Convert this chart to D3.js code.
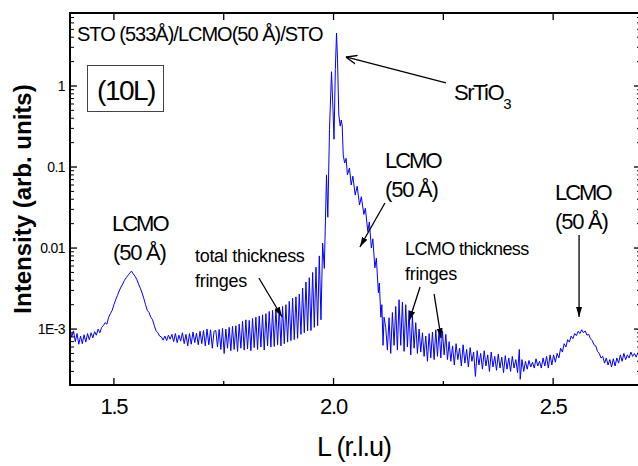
<!DOCTYPE html>
<html>
<head>
<meta charset="utf-8">
<script src="https://cdn.jsdelivr.net/npm/d3@7"></script>
<style>
  body { margin: 0; background: #fff; }
  text { font-family: "Liberation Sans", Arial, sans-serif; fill: #000; }
</style>
</head>
<body>
<svg id="chart" width="638" height="466"></svg>
<script>
// (10L) scan, L in r.l.u, intensity in arb. units
var scan = [
  [1.400,1.0e-3],[1.404,8.0e-4],[1.408,9.5e-4],[1.412,7.0e-4],[1.416,8.8e-4],[1.420,6.5e-4],
  [1.424,8.2e-4],[1.428,6.6e-4],[1.432,8.5e-4],[1.436,6.9e-4],[1.440,8.8e-4],[1.444,7.4e-4],
  [1.448,9.0e-4],[1.452,7.8e-4],[1.456,9.3e-4],[1.460,8.4e-4],[1.464,1.0e-3],[1.468,9.0e-4],
  [1.472,1.05e-3],[1.476,1.1e-3],[1.480,1.2e-3],[1.484,1.15e-3],[1.488,1.4e-3],[1.492,1.55e-3],
  [1.496,1.7e-3],[1.500,2.0e-3],[1.504,2.3e-3],[1.508,2.6e-3],[1.512,2.95e-3],[1.516,3.3e-3],
  [1.520,3.6e-3],[1.524,4.0e-3],[1.528,4.3e-3],[1.532,4.6e-3],[1.536,4.9e-3],[1.540,5.2e-3],
  [1.544,4.8e-3],[1.548,4.5e-3],[1.552,4.1e-3],[1.556,3.6e-3],[1.560,3.2e-3],[1.564,2.8e-3],
  [1.568,2.4e-3],[1.572,2.0e-3],[1.576,1.7e-3],[1.580,1.6e-3],[1.584,1.4e-3],[1.588,1.3e-3],
  [1.592,1.1e-3],[1.596,9.5e-4],[1.600,9.0e-4],[1.604,8.2e-4],
  [1.608,8.0e-4],[1.612,7.3e-4],[1.616,8.2e-4],[1.620,7.2e-4],[1.624,8.4e-4],[1.628,7.5e-4],
  [1.632,8.6e-4],[1.636,7.0e-4],[1.640,8.8e-4],[1.644,6.8e-4],[1.648,8.4e-4],[1.652,7.1e-4],
  [1.656,9.0e-4],[1.660,6.6e-4],[1.664,8.6e-4],[1.668,6.2e-4],[1.672,8.8e-4],[1.676,6.5e-4],
  [1.680,9.2e-4],[1.684,6.8e-4],[1.688,8.9e-4],[1.692,6.4e-4],[1.696,9.4e-4],[1.700,6.6e-4],
  [1.704,9.6e-4],[1.708,6.2e-4],[1.712,1.0e-3],[1.716,6.4e-4],[1.720,9.8e-4],[1.724,5.8e-4],
  [1.728,9.4e-4],
  [1.7320,9.6e-4],[1.7358,6.0e-4],[1.7396,9.9e-4],[1.7434,5.6e-4],[1.7472,1.02e-3],[1.7510,5.0e-4],
  [1.7548,1.0e-3],[1.7586,5.8e-4],[1.7624,1.05e-3],[1.7662,5.4e-4],[1.7700,1.08e-3],[1.7738,5.6e-4],
  [1.7776,1.1e-3],[1.7814,5.3e-4],[1.7852,1.15e-3],[1.7890,5.8e-4],[1.7928,1.25e-3],[1.7966,5.5e-4],
  [1.8004,1.3e-3],[1.8042,5.7e-4],[1.8080,1.28e-3],[1.8118,5.4e-4],[1.8156,1.35e-3],[1.8194,5.9e-4],
  [1.8232,1.4e-3],[1.8270,5.6e-4],[1.8308,1.45e-3],[1.8346,6.0e-4],[1.8384,1.5e-3],[1.8422,5.5e-4],
  [1.8460,1.55e-3],[1.8498,6.2e-4],[1.8536,1.65e-3],[1.8574,6.0e-4],[1.8612,1.7e-3],[1.8650,6.1e-4],
  [1.8688,1.8e-3],[1.8726,6.4e-4],[1.8764,1.85e-3],[1.8802,6.2e-4],[1.8840,1.9e-3],[1.8878,6.6e-4],
  [1.8916,2.0e-3],[1.8954,6.9e-4],[1.8992,2.2e-3],[1.9030,7.2e-4],[1.9068,2.4e-3],[1.9106,7.4e-4],
  [1.9144,2.5e-3],[1.9182,7.7e-4],[1.9220,2.7e-3],[1.9258,8.6e-4],[1.9296,3.2e-3],[1.9334,9.0e-4],
  [1.9372,3.8e-3],[1.9410,9.5e-4],[1.9448,4.3e-3],[1.9486,9.6e-4],[1.9524,5.0e-3],[1.9562,1.05e-3],
  [1.9600,5.8e-3],[1.9638,1.1e-3],[1.9676,8.0e-3],[1.9714,1.3e-3],[1.9752,1.15e-2],[1.9790,5.6e-3],
  [1.9840,8.0e-2],[1.9870,2.4e-2],[1.9908,2.9e-1],[1.9954,1.5],[1.9988,5.0e-1],[2.0011,2.2e-1],
  [2.0041,1.6],[2.0068,4.5],[2.0091,2.1],[2.0120,4.4e-1],[2.0152,3.2e-1],[2.0176,3.8e-1],
  [2.0196,3.3e-1],[2.0221,1.4e-1],[2.0253,1.12e-1],[2.0286,1.28e-1],[2.0316,8.0e-2],[2.0362,9.7e-2],
  [2.0402,6.0e-2],[2.0440,7.7e-2],[2.0493,4.5e-2],[2.0538,5.8e-2],[2.0592,3.4e-2],[2.0633,4.3e-2],
  [2.0690,2.6e-2],[2.0724,3.1e-2],[2.0781,1.6e-2],[2.0815,2.1e-2],[2.0861,1.0e-2],[2.0895,1.3e-2],
  [2.0941,5.7e-3],[2.0975,7.5e-3],[2.1021,2.8e-3],[2.1043,3.7e-3],[2.1077,1.4e-3],[2.1100,2.0e-3],
  [2.1127,6.3e-4],[2.1150,1.4e-3],
  [2.1188,1.05e-3],[2.1226,5.5e-4],[2.1264,1.38e-3],[2.1302,5.0e-4],[2.1340,1.6e-3],[2.1378,6.3e-4],
  [2.1416,1.9e-3],[2.1454,5.5e-4],[2.1492,2.3e-3],[2.1530,6.3e-4],[2.1568,2.15e-3],[2.1606,5.3e-4],
  [2.1644,2.0e-3],[2.1682,6.0e-4],[2.1720,1.7e-3],[2.1758,4.8e-4],[2.1796,1.45e-3],[2.1834,5.8e-4],
  [2.1872,1.2e-3],[2.1910,5.0e-4],[2.1948,1.0e-3],[2.1986,5.2e-4],
  [2.2024,9.0e-4],[2.2062,4.6e-4],[2.2100,8.2e-4],[2.2138,4.0e-4],[2.2176,8.8e-4],[2.2214,4.4e-4],
  [2.2252,9.2e-4],[2.2290,4.2e-4],[2.2328,9.8e-4],[2.2366,4.6e-4],[2.2404,1.0e-3],[2.2442,4.4e-4],
  [2.2480,9.5e-4],[2.2518,4.8e-4],[2.2556,8.6e-4],[2.2594,4.2e-4],
  [2.2632,7.0e-4],[2.2670,4.0e-4],[2.2710,6.2e-4],[2.2750,3.6e-4],[2.2790,6.6e-4],[2.2830,4.2e-4],
  [2.2870,5.8e-4],[2.2910,3.5e-4],[2.2950,6.4e-4],[2.2990,3.8e-4],[2.3030,5.6e-4],[2.3070,3.4e-4],
  [2.3110,5.9e-4],[2.3150,4.0e-4],[2.3190,5.2e-4],[2.3230,2.6e-4],[2.3270,5.4e-4],[2.3310,3.6e-4],
  [2.3350,5.0e-4],[2.3390,3.2e-4],[2.3430,5.4e-4],[2.3470,3.5e-4],[2.3510,4.8e-4],[2.3550,3.0e-4],
  [2.3590,5.2e-4],[2.3630,3.4e-4],[2.3670,4.6e-4],[2.3710,3.1e-4],[2.3750,4.9e-4],[2.3790,3.3e-4],
  [2.3830,4.5e-4],[2.3870,2.9e-4],[2.3910,4.7e-4],[2.3950,3.2e-4],[2.3990,4.4e-4],[2.4030,3.0e-4],
  [2.4070,4.6e-4],[2.4110,3.3e-4],[2.4150,4.2e-4],[2.4190,2.9e-4],[2.4230,5.6e-4],[2.4250,2.4e-4],
  [2.4290,4.2e-4],[2.4330,3.0e-4],[2.4370,4.0e-4],[2.4410,3.2e-4],[2.4450,4.1e-4],[2.4490,3.4e-4],
  [2.4530,3.9e-4],[2.4570,3.3e-4],[2.4610,4.3e-4],[2.4650,3.5e-4],[2.4690,4.0e-4],[2.4730,3.3e-4],
  [2.4770,4.4e-4],[2.4810,3.5e-4],[2.4850,4.6e-4],[2.4890,3.3e-4],[2.4930,4.8e-4],
  [2.4970,3.6e-4],[2.5010,4.8e-4],[2.5050,3.9e-4],[2.5090,5.0e-4],[2.5130,4.4e-4],[2.5170,5.8e-4],
  [2.5210,5.2e-4],[2.5250,6.6e-4],[2.5290,6.0e-4],[2.5330,7.4e-4],[2.5370,6.9e-4],[2.5410,8.2e-4],
  [2.5450,7.6e-4],[2.5490,8.8e-4],[2.5530,8.3e-4],[2.5570,9.4e-4],[2.5610,8.8e-4],[2.5650,9.8e-4],
  [2.5690,9.0e-4],[2.5730,9.5e-4],[2.5770,8.4e-4],[2.5810,8.6e-4],[2.5850,7.6e-4],[2.5890,7.2e-4],
  [2.5930,6.4e-4],[2.5970,6.2e-4],[2.6010,5.3e-4],[2.6050,5.0e-4],[2.6090,4.4e-4],[2.6130,4.6e-4],
  [2.6170,3.8e-4],[2.6210,4.4e-4],[2.6250,3.6e-4],[2.6290,4.2e-4],[2.6330,3.4e-4],[2.6370,4.3e-4],
  [2.6410,3.5e-4],[2.6450,4.4e-4],[2.6490,3.8e-4],[2.6530,4.8e-4],[2.6570,4.0e-4],[2.6610,5.0e-4],
  [2.6650,4.2e-4],[2.6690,4.8e-4],[2.6730,4.4e-4],[2.6770,5.2e-4],[2.6810,4.6e-4],[2.6850,5.0e-4],
  [2.6890,4.5e-4],[2.6930,5.1e-4],[2.6970,4.7e-4],[2.7000,5.0e-4]
];

var xDomain = [1.4, 2.7];
var yDomain = [2.04e-4, 7.96];
var xTicks = [1.5, 2.0, 2.5];
var xTickLabels = ["1.5", "2.0", "2.5"];
var xMinorTicks = [1.75, 2.25];
var yTicks = [1, 0.1, 0.01, 0.001];
var yTickLabels = ["1", "0.1", "0.01", "1E-3"];

// arrows, [L, intensity] of tail and head
var arrows = [
  {from: [2.256, 1.09], to: [2.028, 2.28], open: true},
  {from: [2.117, 0.036], to: [2.060, 0.0103]},
  {from: [2.559, 0.0145], to: [2.559, 1.41e-3]},
  {from: [1.830, 4.27e-3], to: [1.883, 1.41e-3]},
  {from: [2.197, 3.3e-3], to: [2.172, 1.26e-3]},
  {from: [2.229, 2.7e-3], to: [2.245, 7.7e-4]}
];

var plotLeft = 70, plotRight = 641, plotTop = 13, plotBottom = 385;

var svg = d3.select("#chart");
svg.append("rect").attr("width", 638).attr("height", 466).attr("fill", "#fff");

var x = d3.scaleLinear().domain(xDomain).range([plotLeft, plotRight]);
var y = d3.scaleLog().domain(yDomain).range([plotBottom, plotTop]);

var defs = svg.append("defs");
defs.append("clipPath").attr("id", "plot")
  .append("rect")
  .attr("x", plotLeft).attr("y", plotTop)
  .attr("width", plotRight - plotLeft).attr("height", plotBottom - plotTop);

defs.append("marker")
  .attr("id", "head").attr("viewBox", "0 -5 10 10")
  .attr("refX", 10).attr("refY", 0)
  .attr("markerUnits", "userSpaceOnUse")
  .attr("markerWidth", 10).attr("markerHeight", 10)
  .attr("orient", "auto")
  .append("path").attr("d", "M0,-3L10,0L0,3Z").attr("fill", "#000");

defs.append("marker")
  .attr("id", "openhead").attr("viewBox", "0 -5 10 10")
  .attr("refX", 10).attr("refY", 0)
  .attr("markerUnits", "userSpaceOnUse")
  .attr("markerWidth", 11).attr("markerHeight", 11)
  .attr("orient", "auto")
  .append("path").attr("d", "M0,-4L10,0L0,4")
  .attr("fill", "none").attr("stroke", "#000").attr("stroke-width", 1.3);

// curve
var line = d3.line()
  .x(function(d) { return x(d[0]); })
  .y(function(d) { return y(d[1]); });

svg.append("path")
  .datum(scan)
  .attr("clip-path", "url(#plot)")
  .attr("fill", "none")
  .attr("stroke", "#0000ff")
  .attr("stroke-width", 1)
  .attr("stroke-linejoin", "round")
  .attr("d", line);

// frame + ticks
var axes = svg.append("g").attr("stroke", "#000");

axes.append("rect")
  .attr("x", plotLeft).attr("y", plotTop)
  .attr("width", plotRight - plotLeft).attr("height", plotBottom - plotTop)
  .attr("fill", "none").attr("stroke-width", 2);

axes.selectAll(null).data(xTicks.concat(xMinorTicks)).enter()
  .append("line")
  .attr("x1", function(d) { return x(d); })
  .attr("x2", function(d) { return x(d); })
  .attr("y1", plotBottom)
  .attr("y2", function(d) { return xTicks.indexOf(d) >= 0 ? plotBottom - 7 : plotBottom - 4; })
  .attr("stroke-width", 1.3);

axes.selectAll(null).data(xTicks.concat(xMinorTicks)).enter()
  .append("line")
  .attr("x1", function(d) { return x(d); })
  .attr("x2", function(d) { return x(d); })
  .attr("y1", plotTop)
  .attr("y2", plotTop + 7)
  .attr("stroke-width", 1.3);

var yMinor = [];
[1e-4, 1e-3, 1e-2, 1e-1, 1].forEach(function(dec) {
  for (var k = 2; k <= 9; k++) {
    var v = dec * k;
    if (v >= yDomain[0] && v <= yDomain[1]) yMinor.push(v);
  }
});

[[plotLeft, 1], [plotRight, -1]].forEach(function(side) {
  axes.selectAll(null).data(yTicks).enter()
    .append("line")
    .attr("x1", side[0]).attr("x2", side[0] + side[1] * 7)
    .attr("y1", function(d) { return y(d); })
    .attr("y2", function(d) { return y(d); })
    .attr("stroke-width", 1.3);
  axes.selectAll(null).data(yMinor).enter()
    .append("line")
    .attr("x1", side[0]).attr("x2", side[0] + side[1] * 4)
    .attr("y1", function(d) { return y(d); })
    .attr("y2", function(d) { return y(d); })
    .attr("stroke-width", 1);
});

// tick labels
svg.selectAll(null).data(xTicks).enter()
  .append("text")
  .attr("x", function(d) { return x(d); })
  .attr("y", 414)
  .attr("text-anchor", "middle")
  .style("font-size", "22px")
  .style("letter-spacing", "-1.2px")
  .text(function(d, i) { return xTickLabels[i]; });

svg.selectAll(null).data(yTicks).enter()
  .append("text")
  .attr("x", 65)
  .attr("y", function(d) { return y(d); })
  .attr("dy", "0.36em")
  .attr("text-anchor", "end")
  .style("font-size", "14px")
  .style("letter-spacing", "-0.6px")
  .text(function(d, i) { return yTickLabels[i]; });

// axis titles
svg.append("text")
  .attr("transform", "translate(31,199) rotate(-90)")
  .attr("text-anchor", "middle")
  .style("font-size", "24px")
  .style("font-weight", "bold")
  .text("Intensity (arb. units)");

svg.append("text")
  .attr("x", 317).attr("y", 456)
  .style("font-size", "27px")
  .style("letter-spacing", "-1px")
  .text("L (r.l.u)");

// annotations
function label(px, py, size, spacing, str) {
  return svg.append("text")
    .attr("x", px).attr("y", py)
    .style("font-size", size + "px")
    .style("letter-spacing", spacing + "px")
    .text(str);
}

label(77, 41, 20, -1, "STO (533Å)/LCMO(50 Å)/STO");

svg.append("rect")
  .attr("x", 87.5).attr("y", 65.5).attr("width", 76).attr("height", 46)
  .attr("fill", "none").attr("stroke", "#444").attr("stroke-width", 1);
svg.append("text")
  .attr("x", 126).attr("y", 100)
  .attr("text-anchor", "middle")
  .style("font-size", "28px")
  .style("letter-spacing", "-1.5px")
  .text("(10L)");

var srtio = label(454, 100, 22, -1.5, "SrTiO");
srtio.append("tspan").attr("dy", 9).style("font-size", "15px").text("3");

label(112, 231, 22, -2, "LCMO");
label(113, 260, 22, -1.2, "(50 Å)");
label(385, 168, 22, -2, "LCMO");
label(385, 197, 22, -1.2, "(50 Å)");
label(555, 200, 22, -2, "LCMO");
label(555, 229, 22, -1.2, "(50 Å)");

label(195, 262, 18, -0.3, "total thickness");
label(195, 287, 18, -0.3, "fringes");
label(405, 255, 18, -0.6, "LCMO thickness");
label(405, 280, 18, -0.3, "fringes");

svg.append("g").selectAll("line").data(arrows).enter()
  .append("line")
  .attr("x1", function(d) { return x(d.from[0]); })
  .attr("y1", function(d) { return y(d.from[1]); })
  .attr("x2", function(d) { return x(d.to[0]); })
  .attr("y2", function(d) { return y(d.to[1]); })
  .attr("stroke", "#000")
  .attr("stroke-width", 1.3)
  .attr("marker-end", function(d) { return d.open ? "url(#openhead)" : "url(#head)"; });
</script>
</body>
</html>
